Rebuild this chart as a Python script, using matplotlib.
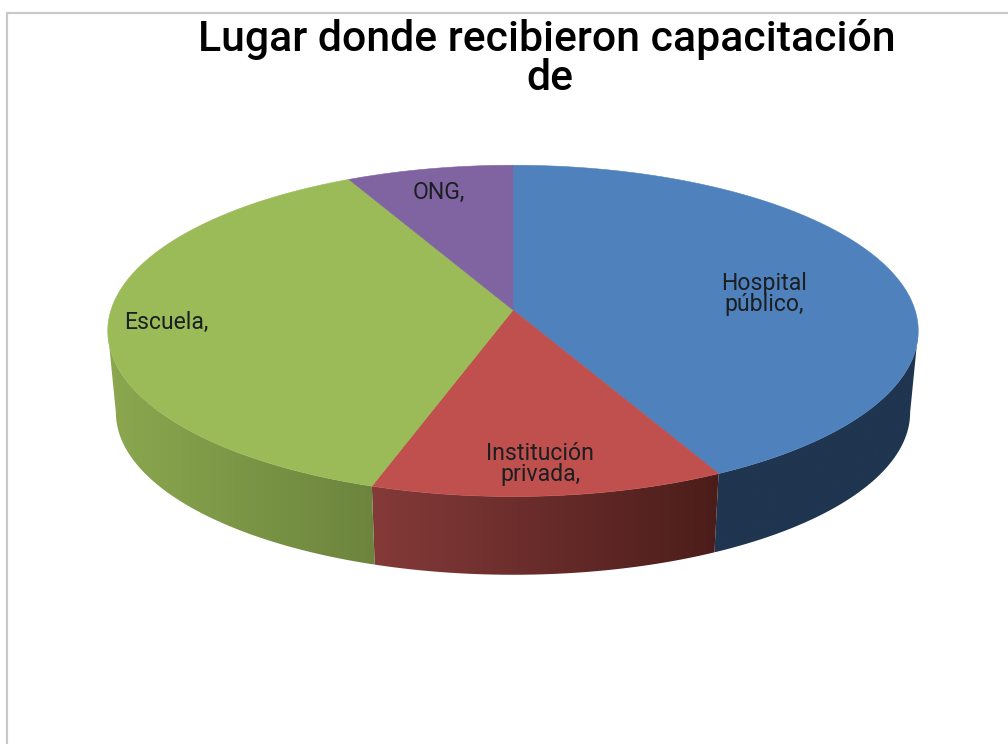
"""
plot.py -- 3D looking pie, built from plain polygons in pixel coordinates.
"""
import numpy as np
import matplotlib
matplotlib.use("Agg")
import matplotlib.pyplot as plt
from matplotlib.colors import LinearSegmentedColormap
from matplotlib.patches import Polygon

TITLE_LINES = ["Lugar donde recibieron capacitación", "de"]
categories = ["Hospital\npúblico,", "Institución\nprivada,", "Escuela,", "ONG,"]
values = [17, 5, 15, 3]

top_colors = ["#4f81bd", "#c0504d", "#9bbb59", "#8064a2"]
side_shades = [["#1f3550", "#1f3550"],
               ["#843a39", "#4b1d1a"],
               ["#8ba84f", "#6c843d"],
               ["#5b4776", "#5b4776"]]
label_pos = [(764, 294), (540, 464), (166, 322), (439, 192)]

CX, CY = 513, 310
A, B, K = 402, 163, 0.126   # perspective of the top face
SHRINK, DEPTH = 0.98, 82    # lower rim
SIL = np.arccos(-K)         # where the rim is widest, the wall starts there


def rim(theta, lower=False):
    # theta runs clockwise from 12 o'clock
    u, v = np.sin(theta), -np.cos(theta)
    s = 1 / (1 - K * v)
    x, y = A * u * s, B * v * s
    if lower:
        return CX + SHRINK * x, CY + SHRINK * y + DEPTH
    return CX + x, CY + y


fig = plt.figure(figsize=(10.08, 7.44), dpi=100)
ax = fig.add_axes([0, 0, 1, 1])
ax.set_xlim(0, 1008); ax.set_ylim(744, 0); ax.axis("off")

# frame of the original chart, only top and left survive the crop
ax.plot([7, 7, 1008], [744, 13, 13], color="#c9c9c9", lw=1.6, solid_joinstyle="miter")

edges = np.r_[0, np.cumsum(values)] / np.sum(values) * 2 * np.pi

# side walls first, only the part facing the viewer
for i in range(len(values)):
    lo, hi = max(edges[i], SIL), min(edges[i + 1], 2 * np.pi - SIL)
    if hi <= lo:
        continue
    t = np.linspace(lo, hi, 200)
    xt, yt = rim(t)
    xb, yb = rim(t, lower=True)
    pts = np.r_[np.c_[xt, yt], np.c_[xb, yb][::-1]]
    poly = Polygon(pts, closed=True, fc="none", ec="none", transform=ax.transData)
    ax.add_patch(poly)
    x0, x1 = pts[:, 0].min(), pts[:, 0].max()
    y0, y1 = pts[:, 1].min(), pts[:, 1].max()
    cmap = LinearSegmentedColormap.from_list("side%d" % i, side_shades[i])
    im = ax.imshow(np.linspace(0, 1, 256)[None, :], cmap=cmap, aspect="auto",
                   extent=(x0, x1, y1, y0), interpolation="bilinear", zorder=2)
    im.set_clip_path(poly)
ax.set_xlim(0, 1008); ax.set_ylim(744, 0)

# top face
for i in range(len(values)):
    t = np.linspace(edges[i], edges[i + 1], 300)
    xt, yt = rim(t)
    pts = np.r_[[[CX, CY]], np.c_[xt, yt]]
    ax.add_patch(Polygon(pts, closed=True, fc=top_colors[i], ec=top_colors[i], lw=0.4, zorder=3))

for name, (lx, ly) in zip(categories, label_pos):
    ax.text(lx, ly, name, ha="center", va="center", fontsize=16.6, family="Roboto",
            color="#1b1f22", linespacing=0.92, zorder=4)

ax.text(546.5, 39, TITLE_LINES[0], ha="center", va="center", fontsize=30.8, family="Roboto",
        fontweight="medium", color="#000000")
ax.text(550, 78, TITLE_LINES[1], ha="center", va="center", fontsize=30.8, family="Roboto",
        fontweight="medium", color="#000000")

fig.savefig("out.png", dpi=100)
plt.close(fig)
